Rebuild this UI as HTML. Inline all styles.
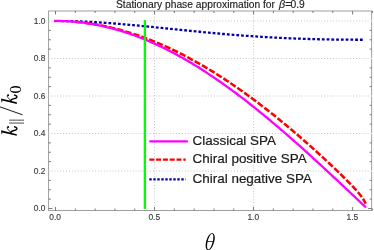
<!DOCTYPE html>
<html><head><meta charset="utf-8"><title>Stationary phase approximation</title>
<style>html,body{margin:0;padding:0;background:#fff;}body{width:374px;height:250px;overflow:hidden;font-family:"Liberation Sans",sans-serif;}svg{display:block;will-change:transform;}text{font-family:"Liberation Sans",sans-serif;}</style>
</head><body>
<svg width="374" height="250" viewBox="0 0 374 250">
<rect width="374" height="250" fill="#fff"/>
<g stroke="#b0b0b0" stroke-width="0.8" stroke-dasharray="0.9 2" fill="none"><line x1="154.53" y1="11.0" x2="154.53" y2="210.5"/><line x1="253.57" y1="11.0" x2="253.57" y2="210.5"/><line x1="48.6" y1="171.00" x2="371.65" y2="171.00"/><line x1="48.6" y1="133.50" x2="371.65" y2="133.50"/><line x1="48.6" y1="96.00" x2="371.65" y2="96.00"/><line x1="48.6" y1="58.50" x2="371.65" y2="58.50"/><line x1="48.6" y1="21.00" x2="371.65" y2="21.00"/></g>
<path d="M61.44,21.03 L63.33,21.05 L65.22,21.08 L67.11,21.11 L69.00,21.15 L70.89,21.19 L72.78,21.24 L74.67,21.29 L76.55,21.35 L78.44,21.41 L80.33,21.48 L82.22,21.56 L84.11,21.64 L86.00,21.72 L87.89,21.81 L89.78,21.91 L91.67,22.00 L93.56,22.11 L95.45,22.21 L97.33,22.33 L99.22,22.44 L101.11,22.56 L103.00,22.69 L104.89,22.81 L106.78,22.95 L108.67,23.08 L110.56,23.22 L112.45,23.36 L114.34,23.51 L116.23,23.66 L118.11,23.81 L120.00,23.97 L121.89,24.12 L123.78,24.28 L125.67,24.45 L127.56,24.61 L129.45,24.78 L131.34,24.95 L133.23,25.13 L135.12,25.30 L137.01,25.48 L138.89,25.66 L140.78,25.84 L142.67,26.02 L144.56,26.21 L146.45,26.39 L148.34,26.58 L150.23,26.77 L152.12,26.96 L154.01,27.15 L155.90,27.34 L157.79,27.53 L159.67,27.72 L161.56,27.92 L163.45,28.11 L165.34,28.30 L167.23,28.50 L169.12,28.69 L171.01,28.89 L172.90,29.08 L174.79,29.27 L176.68,29.47 L178.57,29.66 L180.45,29.86 L182.34,30.05 L184.23,30.24 L186.12,30.43 L188.01,30.62 L189.90,30.81 L191.79,31.00 L193.68,31.19 L195.57,31.38 L197.46,31.56 L199.35,31.75 L201.23,31.93 L203.12,32.11 L205.01,32.29 L206.90,32.47 L208.79,32.65 L210.68,32.83 L212.57,33.00 L214.46,33.17 L216.35,33.34 L218.24,33.51 L220.13,33.68 L222.01,33.85 L223.90,34.01 L225.79,34.17 L227.68,34.33 L229.57,34.49 L231.46,34.65 L233.35,34.80 L235.24,34.95 L237.13,35.10 L239.02,35.25 L240.91,35.39 L242.79,35.53 L244.68,35.67 L246.57,35.81 L248.46,35.95 L250.35,36.08 L252.24,36.21 L254.13,36.34 L256.02,36.46 L257.91,36.59 L259.80,36.71 L261.69,36.83 L263.58,36.94 L265.46,37.06 L267.35,37.17 L269.24,37.28 L271.13,37.38 L273.02,37.49 L274.91,37.59 L276.80,37.69 L278.69,37.78 L280.58,37.88 L282.47,37.97 L284.36,38.06 L286.24,38.14 L288.13,38.23 L290.02,38.31 L291.91,38.39 L293.80,38.46 L295.69,38.54 L297.58,38.61 L299.47,38.68 L301.36,38.74 L303.25,38.81 L305.14,38.87 L307.02,38.93 L308.91,38.99 L310.80,39.04 L312.69,39.10 L314.58,39.15 L316.47,39.20 L318.36,39.24 L320.25,39.29 L322.14,39.33 L324.03,39.37 L325.92,39.40 L327.80,39.44 L329.69,39.47 L331.58,39.50 L333.47,39.53 L335.36,39.56 L337.25,39.59 L339.14,39.61 L341.03,39.63 L342.92,39.65 L344.81,39.67 L346.70,39.68 L348.58,39.70 L350.47,39.71 L352.36,39.72 L354.25,39.73 L356.14,39.73 L358.03,39.74 L359.92,39.74 L361.81,39.75 L363.70,39.75" fill="none" stroke="#0000aa" stroke-width="2.3" stroke-dasharray="2.8 1.958" stroke-dashoffset="0.54"/>
<path d="M75.31,21.78 L77.12,21.95 L78.94,22.12 L80.75,22.32 L82.57,22.52 L84.38,22.74 L86.20,22.97 L88.01,23.22 L89.83,23.48 L91.64,23.76 L93.46,24.05 L95.27,24.35 L97.08,24.67 L98.90,25.00 L100.71,25.35 L102.53,25.71 L104.34,26.08 L106.16,26.46 L107.97,26.86 L109.79,27.28 L111.60,27.70 L113.42,28.14 L115.23,28.60 L117.05,29.07 L118.86,29.55 L120.68,30.04 L122.49,30.55 L124.31,31.07 L126.12,31.60 L127.94,32.15 L129.75,32.71 L131.57,33.28 L133.38,33.87 L135.20,34.47 L137.01,35.08 L138.83,35.70 L140.64,36.34 L142.46,36.99 L144.27,37.66 L146.08,38.33 L147.90,39.02 L149.71,39.72 L151.53,40.44 L153.34,41.17 L155.16,41.91 L156.97,42.66 L158.79,43.42 L160.60,44.20 L162.42,44.99 L164.23,45.79 L166.05,46.61 L167.86,47.43 L169.68,48.27 L171.49,49.12 L173.31,49.98 L175.12,50.86 L176.94,51.75 L178.75,52.65 L180.57,53.56 L182.38,54.48 L184.20,55.41 L186.01,56.36 L187.83,57.32 L189.64,58.29 L191.46,59.27 L193.27,60.26 L195.08,61.27 L196.90,62.29 L198.71,63.31 L200.53,64.35 L202.34,65.40 L204.16,66.47 L205.97,67.54 L207.79,68.62 L209.60,69.72 L211.42,70.82 L213.23,71.94 L215.05,73.07 L216.86,74.21 L218.68,75.36 L220.49,76.52 L222.31,77.69 L224.12,78.88 L225.94,80.07 L227.75,81.27 L229.57,82.49 L231.38,83.71 L233.20,84.95 L235.01,86.19 L236.83,87.45 L238.64,88.71 L240.46,89.99 L242.27,91.27 L244.08,92.57 L245.90,93.87 L247.71,95.19 L249.53,96.51 L251.34,97.85 L253.16,99.19 L254.97,100.55 L256.79,101.91 L258.60,103.28 L260.42,104.67 L262.23,106.06 L264.05,107.46 L265.86,108.87 L267.68,110.29 L269.49,111.72 L271.31,113.15 L273.12,114.60 L274.94,116.05 L276.75,117.52 L278.57,118.99 L280.38,120.47 L282.20,121.96 L284.01,123.46 L285.83,124.96 L287.64,126.48 L289.46,128.00 L291.27,129.53 L293.08,131.07 L294.90,132.61 L296.71,134.17 L298.53,135.73 L300.34,137.30 L302.16,138.88 L303.97,140.47 L305.79,142.06 L307.60,143.66 L309.42,145.27 L311.23,146.89 L313.05,148.52 L314.86,150.15 L316.68,151.79 L318.49,153.44 L320.31,155.09 L322.12,156.76 L323.94,158.43 L325.75,160.11 L327.57,161.80 L329.38,163.50 L331.20,165.21 L333.01,166.93 L334.83,168.65 L336.64,170.39 L338.46,172.14 L340.27,173.90 L342.09,175.68 L343.90,177.47 L345.71,179.27 L347.53,181.10 L349.34,182.95 L351.16,184.83 L352.97,186.74 L354.79,188.69 L356.60,190.70 L358.42,192.78 L360.23,194.97 L362.05,197.34 L363.86,200.03 L365.68,203.58" fill="none" stroke="#ff0000" stroke-width="2.55" stroke-dasharray="6.3 2.1" stroke-dashoffset="7.8"/>
<path d="M54.01,21.01 L55.96,20.98 L57.91,20.97 L59.86,20.99 L61.81,21.03 L63.76,21.09 L65.71,21.16 L67.66,21.26 L69.61,21.38 L71.56,21.51 L73.51,21.66 L75.46,21.83 L77.41,22.02 L79.36,22.23 L81.31,22.45 L83.26,22.70 L85.21,22.96 L87.16,23.24 L89.11,23.54 L91.06,23.86 L93.01,24.19 L94.96,24.54 L96.91,24.91 L98.86,25.30 L100.81,25.71 L102.76,26.13 L104.71,26.57 L106.66,27.03 L108.61,27.51 L110.56,28.00 L112.51,28.51 L114.46,29.04 L116.41,29.59 L118.36,30.15 L120.31,30.73 L122.26,31.33 L124.21,31.95 L126.16,32.58 L128.11,33.23 L130.05,33.90 L132.00,34.58 L133.95,35.28 L135.90,36.00 L137.85,36.74 L139.80,37.49 L141.75,38.26 L143.70,39.04 L145.65,39.84 L147.60,40.66 L149.55,41.49 L151.50,42.34 L153.45,43.21 L155.40,44.09 L157.35,44.99 L159.30,45.90 L161.25,46.83 L163.20,47.77 L165.15,48.73 L167.10,49.71 L169.05,50.70 L171.00,51.71 L172.95,52.73 L174.90,53.77 L176.85,54.82 L178.80,55.88 L180.75,56.97 L182.70,58.06 L184.65,59.17 L186.60,60.30 L188.55,61.44 L190.50,62.59 L192.45,63.76 L194.40,64.94 L196.35,66.14 L198.30,67.35 L200.25,68.57 L202.20,69.81 L204.15,71.06 L206.10,72.32 L208.04,73.60 L209.99,74.89 L211.94,76.19 L213.89,77.51 L215.84,78.84 L217.79,80.18 L219.74,81.53 L221.69,82.90 L223.64,84.27 L225.59,85.66 L227.54,87.07 L229.49,88.48 L231.44,89.90 L233.39,91.34 L235.34,92.79 L237.29,94.25 L239.24,95.72 L241.19,97.20 L243.14,98.69 L245.09,100.19 L247.04,101.71 L248.99,103.23 L250.94,104.76 L252.89,106.31 L254.84,107.86 L256.79,109.42 L258.74,111.00 L260.69,112.58 L262.64,114.17 L264.59,115.77 L266.54,117.38 L268.49,119.00 L270.44,120.63 L272.39,122.26 L274.34,123.91 L276.29,125.56 L278.24,127.22 L280.19,128.89 L282.14,130.56 L284.09,132.25 L286.03,133.94 L287.98,135.63 L289.93,137.34 L291.88,139.05 L293.83,140.77 L295.78,142.49 L297.73,144.23 L299.68,145.96 L301.63,147.71 L303.58,149.46 L305.53,151.21 L307.48,152.97 L309.43,154.74 L311.38,156.51 L313.33,158.29 L315.28,160.07 L317.23,161.85 L319.18,163.64 L321.13,165.44 L323.08,167.24 L325.03,169.04 L326.98,170.85 L328.93,172.66 L330.88,174.47 L332.83,176.29 L334.78,178.11 L336.73,179.93 L338.68,181.76 L340.63,183.59 L342.58,185.42 L344.53,187.25 L346.48,189.08 L348.43,190.92 L350.38,192.76 L352.33,194.60 L354.28,196.44 L356.23,198.28 L358.18,200.13 L360.13,201.97 L362.08,203.82 L364.02,205.66 L365.97,207.51" fill="none" stroke="#ff00ff" stroke-width="2.3"/>
<line x1="144.83" y1="20.10" x2="144.83" y2="208.90" stroke="#00ff00" stroke-width="2.3"/>
<rect x="48.6" y="11.0" width="323.05" height="199.50" fill="none" stroke="#969696" stroke-width="0.9"/>
<g stroke="#666" stroke-width="0.85" fill="none"><line x1="55.50" y1="210.5" x2="55.50" y2="207.00"/><line x1="55.50" y1="11.0" x2="55.50" y2="14.50"/><line x1="75.31" y1="210.5" x2="75.31" y2="208.50"/><line x1="75.31" y1="11.0" x2="75.31" y2="13.00"/><line x1="95.11" y1="210.5" x2="95.11" y2="208.50"/><line x1="95.11" y1="11.0" x2="95.11" y2="13.00"/><line x1="114.92" y1="210.5" x2="114.92" y2="208.50"/><line x1="114.92" y1="11.0" x2="114.92" y2="13.00"/><line x1="134.73" y1="210.5" x2="134.73" y2="208.50"/><line x1="134.73" y1="11.0" x2="134.73" y2="13.00"/><line x1="154.53" y1="210.5" x2="154.53" y2="207.00"/><line x1="154.53" y1="11.0" x2="154.53" y2="14.50"/><line x1="174.34" y1="210.5" x2="174.34" y2="208.50"/><line x1="174.34" y1="11.0" x2="174.34" y2="13.00"/><line x1="194.15" y1="210.5" x2="194.15" y2="208.50"/><line x1="194.15" y1="11.0" x2="194.15" y2="13.00"/><line x1="213.96" y1="210.5" x2="213.96" y2="208.50"/><line x1="213.96" y1="11.0" x2="213.96" y2="13.00"/><line x1="233.76" y1="210.5" x2="233.76" y2="208.50"/><line x1="233.76" y1="11.0" x2="233.76" y2="13.00"/><line x1="253.57" y1="210.5" x2="253.57" y2="207.00"/><line x1="253.57" y1="11.0" x2="253.57" y2="14.50"/><line x1="273.38" y1="210.5" x2="273.38" y2="208.50"/><line x1="273.38" y1="11.0" x2="273.38" y2="13.00"/><line x1="293.18" y1="210.5" x2="293.18" y2="208.50"/><line x1="293.18" y1="11.0" x2="293.18" y2="13.00"/><line x1="312.99" y1="210.5" x2="312.99" y2="208.50"/><line x1="312.99" y1="11.0" x2="312.99" y2="13.00"/><line x1="332.80" y1="210.5" x2="332.80" y2="208.50"/><line x1="332.80" y1="11.0" x2="332.80" y2="13.00"/><line x1="352.61" y1="210.5" x2="352.61" y2="207.00"/><line x1="352.61" y1="11.0" x2="352.61" y2="14.50"/><line x1="372.41" y1="210.5" x2="372.41" y2="208.50"/><line x1="372.41" y1="11.0" x2="372.41" y2="13.00"/><line x1="48.6" y1="208.50" x2="52.40" y2="208.50"/><line x1="371.65" y1="208.50" x2="368.15" y2="208.50"/><line x1="48.6" y1="199.12" x2="50.90" y2="199.12"/><line x1="371.65" y1="199.12" x2="369.65" y2="199.12"/><line x1="48.6" y1="189.75" x2="50.90" y2="189.75"/><line x1="371.65" y1="189.75" x2="369.65" y2="189.75"/><line x1="48.6" y1="180.38" x2="50.90" y2="180.38"/><line x1="371.65" y1="180.38" x2="369.65" y2="180.38"/><line x1="48.6" y1="161.62" x2="50.90" y2="161.62"/><line x1="371.65" y1="161.62" x2="369.65" y2="161.62"/><line x1="48.6" y1="152.25" x2="50.90" y2="152.25"/><line x1="371.65" y1="152.25" x2="369.65" y2="152.25"/><line x1="48.6" y1="142.88" x2="50.90" y2="142.88"/><line x1="371.65" y1="142.88" x2="369.65" y2="142.88"/><line x1="48.6" y1="124.12" x2="50.90" y2="124.12"/><line x1="371.65" y1="124.12" x2="369.65" y2="124.12"/><line x1="48.6" y1="114.75" x2="50.90" y2="114.75"/><line x1="371.65" y1="114.75" x2="369.65" y2="114.75"/><line x1="48.6" y1="105.37" x2="50.90" y2="105.37"/><line x1="371.65" y1="105.37" x2="369.65" y2="105.37"/><line x1="48.6" y1="86.62" x2="50.90" y2="86.62"/><line x1="371.65" y1="86.62" x2="369.65" y2="86.62"/><line x1="48.6" y1="77.25" x2="50.90" y2="77.25"/><line x1="371.65" y1="77.25" x2="369.65" y2="77.25"/><line x1="48.6" y1="67.88" x2="50.90" y2="67.88"/><line x1="371.65" y1="67.88" x2="369.65" y2="67.88"/><line x1="48.6" y1="49.12" x2="50.90" y2="49.12"/><line x1="371.65" y1="49.12" x2="369.65" y2="49.12"/><line x1="48.6" y1="39.75" x2="50.90" y2="39.75"/><line x1="371.65" y1="39.75" x2="369.65" y2="39.75"/><line x1="48.6" y1="30.38" x2="50.90" y2="30.38"/><line x1="371.65" y1="30.38" x2="369.65" y2="30.38"/></g>
<rect x="370.85" y="170.45" width="1.6" height="1.1" fill="#fff" fill-opacity="0.9"/><rect x="47.80" y="170.50" width="1.6" height="1.0" fill="#fff" fill-opacity="0.35"/><rect x="370.85" y="132.95" width="1.6" height="1.1" fill="#fff" fill-opacity="0.9"/><rect x="47.80" y="133.00" width="1.6" height="1.0" fill="#fff" fill-opacity="0.35"/><rect x="370.85" y="95.45" width="1.6" height="1.1" fill="#fff" fill-opacity="0.9"/><rect x="47.80" y="95.50" width="1.6" height="1.0" fill="#fff" fill-opacity="0.35"/><rect x="370.85" y="57.95" width="1.6" height="1.1" fill="#fff" fill-opacity="0.9"/><rect x="47.80" y="58.00" width="1.6" height="1.0" fill="#fff" fill-opacity="0.35"/><rect x="370.85" y="20.45" width="1.6" height="1.1" fill="#fff" fill-opacity="0.9"/><rect x="47.80" y="20.50" width="1.6" height="1.0" fill="#fff" fill-opacity="0.35"/>
<g font-size="9.8" fill="#3a3a3a" stroke="#3a3a3a" stroke-width="0.15"><text transform="translate(55.20,220.3) scale(0.86,1)" text-anchor="middle">0.0</text><text transform="translate(154.23,220.3) scale(0.86,1)" text-anchor="middle">0.5</text><text transform="translate(253.27,220.3) scale(0.86,1)" text-anchor="middle">1.0</text><text transform="translate(352.31,220.3) scale(0.86,1)" text-anchor="middle">1.5</text><text transform="translate(45.4,211.20) scale(0.86,1)" text-anchor="end">0.0</text><text transform="translate(45.4,173.70) scale(0.86,1)" text-anchor="end">0.2</text><text transform="translate(45.4,136.20) scale(0.86,1)" text-anchor="end">0.4</text><text transform="translate(45.4,98.70) scale(0.86,1)" text-anchor="end">0.6</text><text transform="translate(45.4,61.20) scale(0.86,1)" text-anchor="end">0.8</text><text transform="translate(45.4,23.70) scale(0.86,1)" text-anchor="end">1.0</text></g>
<text x="210.4" y="8.2" font-size="10.25" text-anchor="middle" fill="#222" stroke="#222" stroke-width="0.15">Stationary phase approximation for <tspan font-style="italic" dx="1.1" font-size="10.8">β</tspan>=<tspan dx="-0.6">0.9</tspan></text>
<line x1="149.3" y1="141.4" x2="187.8" y2="141.4" stroke="#ff00ff" stroke-width="2.3"/>
<line x1="149.3" y1="159.7" x2="185.7" y2="159.7" stroke="#ff0000" stroke-width="2.3" stroke-dasharray="5 1.8"/>
<line x1="149.3" y1="179.3" x2="185.7" y2="179.3" stroke="#0000aa" stroke-width="2.3" stroke-dasharray="2.4 1.6"/>
<g font-size="13.45" fill="#1a1a1a" stroke="#1a1a1a" stroke-width="0.2"><text x="192.6" y="145.2">Classical SPA</text><text x="192.6" y="163.3">Chiral positive SPA</text><text x="192.6" y="182.8">Chiral negative SPA</text></g>
<g transform="translate(210.2,241.6) skewX(-13)" fill="#000"><path fill-rule="evenodd" d="M-4.1,0A4.1,8.6 0 1 0 4.1,0A4.1,8.6 0 1 0 -4.1,0Z M-2.55,0A2.55,7.9 0 1 1 2.55,0A2.55,7.9 0 1 1 -2.55,0Z"/><rect x="-3" y="-0.4" width="6" height="0.8"/></g>
<g transform="translate(17,110.5) rotate(-90)" fill="#000" style="font-family:'Liberation Serif',serif">
<g transform="translate(-25.2,-0.2)"><path d="M0,0L1.55,0L5.4,-15.75L3.6,-15.55L1.5,-15.2L1.45,-14.7L3.3,-14.55Z" fill="#000"/><path d="M1.4,-4.6C2.6,-5.6 4.2,-6.6 5.6,-8.2C6.6,-9.3 7.6,-9.8 8.6,-9.4" fill="none" stroke="#000" stroke-width="0.85"/><circle cx="8.7" cy="-8.7" r="1.0" fill="#000"/><path d="M2.6,-6.3C4.2,-6.0 4.9,-4.6 5.2,-2.6C5.5,-0.8 6.0,0.1 6.9,0.1C7.9,0.1 8.6,-1.0 9.0,-2.8" fill="none" stroke="#000" stroke-width="1.3"/></g>
<path d="M-12.55,-7.8V7 M-9.65,-7.8V7" stroke="#000" stroke-width="0.7" fill="none"/>
<path d="M-4.3,5.5L4,-18" stroke="#000" stroke-width="0.9" fill="none"/>
<g transform="translate(6.6,-0.2)"><path d="M0,0L1.55,0L5.4,-15.75L3.6,-15.55L1.5,-15.2L1.45,-14.7L3.3,-14.55Z" fill="#000"/><path d="M1.4,-4.6C2.6,-5.6 4.2,-6.6 5.6,-8.2C6.6,-9.3 7.6,-9.8 8.6,-9.4" fill="none" stroke="#000" stroke-width="0.85"/><circle cx="8.7" cy="-8.7" r="1.0" fill="#000"/><path d="M2.6,-6.3C4.2,-6.0 4.9,-4.6 5.2,-2.6C5.5,-0.8 6.0,0.1 6.9,0.1C7.9,0.1 8.6,-1.0 9.0,-2.8" fill="none" stroke="#000" stroke-width="1.3"/></g>
<text x="16.9" y="4" font-size="16" style="font-family:'Liberation Serif',serif">0</text>
</g>
</svg>
</body></html>
